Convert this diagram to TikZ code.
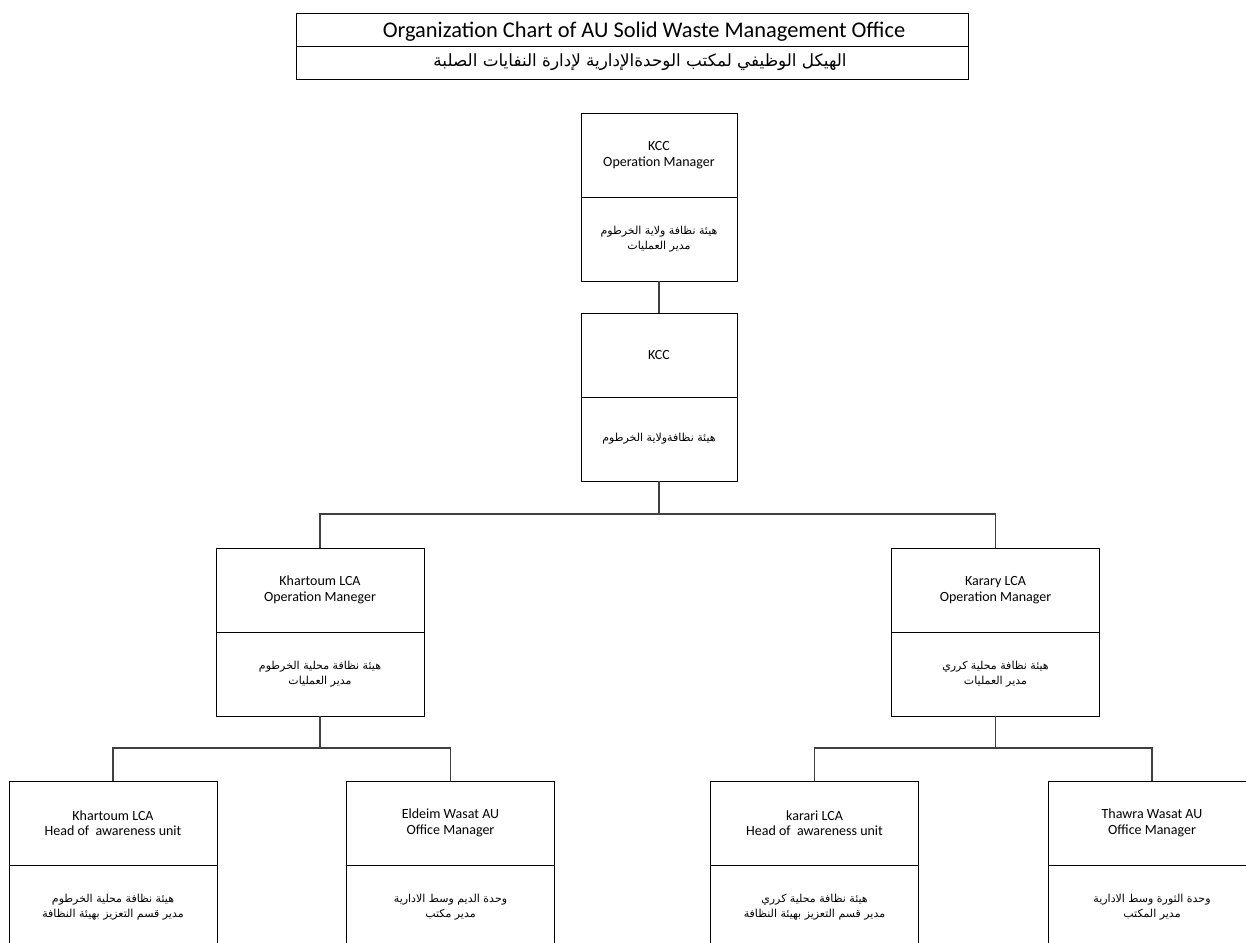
\documentclass[tikz,border=0pt]{standalone}
\usepackage{fontspec}
\setmainfont{Carlito}
\newfontfamily\arabicfont[Script=Arabic]{DejaVu Sans}
\TeXXeTstate=1
\newcommand{\ar}[1]{\arabicfont\beginR #1\endR}
\begin{document}
\begin{tikzpicture}[x=1pt,y=-1pt,
  cell/.style={draw=black, line width=0.8pt, inner sep=0pt, outer sep=0pt,
    align=center, font=\fontsize{14}{15.5}\selectfont},
  narrow/.style={cell, minimum width=156pt, minimum height=84pt},
  wide/.style={cell, minimum width=208pt, minimum height=84pt},
  arline/.style={font=\fontsize{11}{15.5}\selectfont},
  titlecell/.style={draw=black, line width=0.8pt, inner sep=0pt, outer sep=0pt,
    minimum width=672pt, minimum height=33pt},
  link/.style={draw=black!75, line width=1.1pt}]
\useasboundingbox (0,0) rectangle (1246,942);
\clip (0,0) rectangle (1246,942);

% title block (text set slightly right of centre)
\node[titlecell, text depth=0pt, font=\fontsize{22.4}{24}\selectfont] (tEn) at (632,29.5)
  {\hspace*{24pt}Organization Chart of AU Solid Waste Management Office};
\node[titlecell, font=\fontsize{16.8}{18}\selectfont] (tAr) at (632,62.5)
  {\hspace*{16pt}\ar{الهيكل الوظيفي لمكتب الوحدةالإدارية لإدارة النفايات الصلبة}};

% state level
\node[narrow] (k1u) at (659,155) {KCC\\Operation Manager};
\node[narrow, arline] (k1l) at (659,239)
  {\ar{هيئة نظافة ولاية الخرطوم}\\\ar{مدير العمليات}};
\node[narrow] (k2u) at (659,355) {KCC};
\node[narrow, arline] (k2l) at (659,439) {\ar{هيئة نظافةولاية الخرطوم}};

% locality level
\node[wide] (khu) at (320,590) {Khartoum LCA\\Operation Maneger};
\node[wide, arline] (khl) at (320,674)
  {\ar{هيئة نظافة محلية الخرطوم}\\\ar{مدير العمليات}};
\node[wide] (kau) at (995.5,590) {Karary LCA\\Operation Manager};
\node[wide, arline] (kal) at (995.5,674)
  {\ar{هيئة نظافة محلية كرري}\\\ar{مدير العمليات}};

% unit level
\node[wide] (h1u) at (113,823) {Khartoum LCA\\Head of\ \ awareness unit};
\node[wide, arline] (h1l) at (113,907)
  {\ar{هيئة نظافة محلية الخرطوم}\\\ar{مدير قسم التعزيز بهيئة النظافة}};
\node[wide] (e1u) at (450.5,823) {Eldeim Wasat AU\\Office Manager};
\node[wide, arline] (e1l) at (450.5,907)
  {\ar{وحدة الديم وسط الادارية}\\\ar{مدير مكتب}};
\node[wide] (h2u) at (814.5,823) {karari LCA\\Head of\ \ awareness unit};
\node[wide, arline] (h2l) at (814.5,907)
  {\ar{هيئة نظافة محلية كرري}\\\ar{مدير قسم التعزيز بهيئة النظافة}};
\node[wide] (t1u) at (1152,823) {Thawra Wasat AU\\Office Manager};
\node[wide, arline] (t1l) at (1152,907)
  {\ar{وحدة الثورة وسط الادارية}\\\ar{مدير المكتب}};

% junctions
\coordinate (j1) at (659,514);
\coordinate (j2) at (320,748);
\coordinate (j3) at (995.5,748);

% connectors
\draw[link] (k1l.south) -- (k2u.north);
\draw[link] (k2l.south) -- (j1);
\draw[link] (khu.north) |- (j1) -| (kau.north);
\draw[link] (khl.south) -- (j2);
\draw[link] (h1u.north) |- (j2) -| (e1u.north);
\draw[link] (kal.south) -- (j3);
\draw[link] (h2u.north) |- (j3) -| (t1u.north);
\end{tikzpicture}
\end{document}
